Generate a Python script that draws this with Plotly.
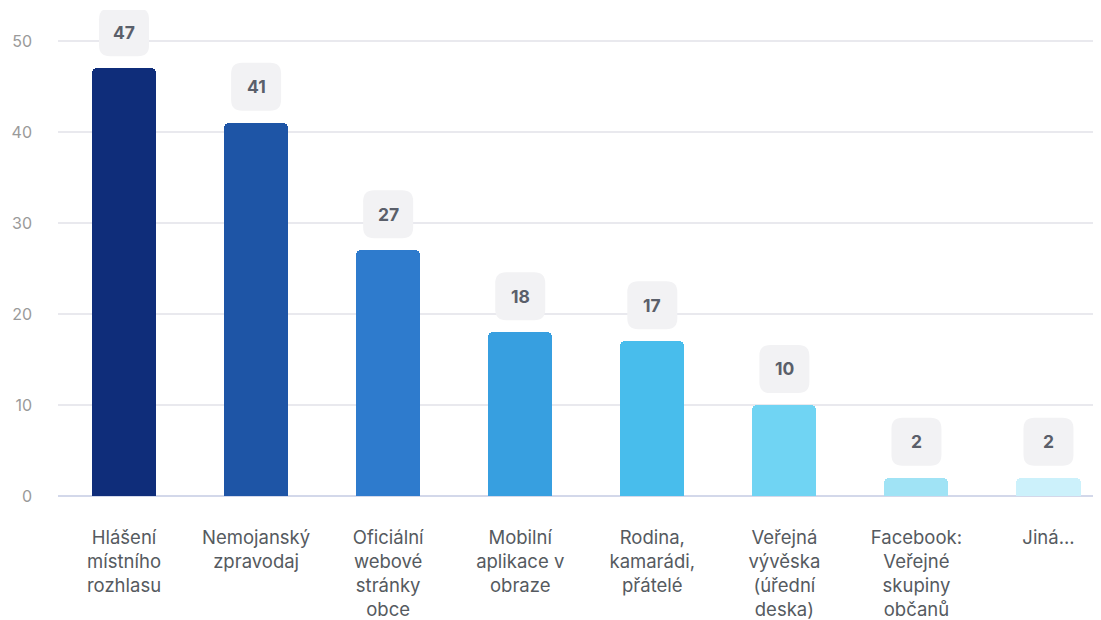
import plotly.graph_objects as go

# categories and values
categories = [
    "Hlášení<br>místního<br>rozhlasu",
    "Nemojanský<br>zpravodaj",
    "Oficiální<br>webové<br>stránky<br>obce",
    "Mobilní<br>aplikace v<br>obraze",
    "Rodina,<br>kamarádi,<br>přátelé",
    "Veřejná<br>vývěska<br>(úřední<br>deska)",
    "Facebook:<br>Veřejné<br>skupiny<br>občanů",
    "Jiná...",
]
values = [47, 41, 27, 18, 17, 10, 2, 2]
bar_colors = ["#0f2d7a", "#1e55a6", "#2e7bcd", "#379fe0", "#48bdec",
              "#70d4f3", "#a0e3f5", "#ccf1fb"]
y_ticks = [0, 10, 20, 30, 40, 50]

FONT = "Inter, Roboto, sans-serif"
x_pos = list(range(len(values)))

fig = go.Figure()
fig.add_trace(go.Bar(
    x=x_pos, y=values, width=0.485,
    marker=dict(color=bar_colors, cornerradius=5, line=dict(width=0)),
    hoverinfo="skip",
))


def rounded_box(w, h, r, gap):
    # path in pixels relative to bar top, y up
    x0, x1 = -w / 2, w / 2
    y0, y1 = gap, gap + h
    return (f"M {x0 + r},{y0} L {x1 - r},{y0} Q {x1},{y0} {x1},{y0 + r} "
            f"L {x1},{y1 - r} Q {x1},{y1} {x1 - r},{y1} L {x0 + r},{y1} "
            f"Q {x0},{y1} {x0},{y1 - r} L {x0},{y0 + r} Q {x0},{y0} {x0 + r},{y0} Z")


for i, v in zip(x_pos, values):
    fig.add_shape(
        type="path", xref="x", yref="y",
        xsizemode="pixel", ysizemode="pixel", xanchor=i, yanchor=v,
        path=rounded_box(50, 48, 11, 12),
        fillcolor="#f2f2f4", line=dict(width=0), layer="above",
    )
    fig.add_annotation(
        x=i, y=v, xref="x", yref="y", text=f"<b>{v}</b>", showarrow=False,
        yshift=36, font=dict(family=FONT, size=17.5, color="#5a5f6a"),
    )

# the page body adds 8px, so margins are shifted by that amount
fig.update_layout(
    width=1101, height=620,
    margin=dict(l=50, r=9, t=2, b=132),
    paper_bgcolor="white", plot_bgcolor="white",
    showlegend=False, bargap=0,
    font=dict(family=FONT),
)
fig.update_xaxes(
    range=[-0.5, 7.39], tickmode="array", tickvals=x_pos, ticktext=categories,
    tickfont=dict(family=FONT, size=18.5, color="#555a60"),
    showgrid=False, zeroline=False, showline=False, ticks="",
    ticklabelstandoff=28, fixedrange=True,
)
fig.update_yaxes(
    range=[0, 53.4], tickmode="array", tickvals=y_ticks,
    tickfont=dict(family=FONT, size=16, color="#9a9a9a"),
    showgrid=True, gridcolor="#e9e9ee", gridwidth=1.5,
    zeroline=True, zerolinecolor="#d3d8ea", zerolinewidth=2,
    ticklabelstandoff=25, fixedrange=True,
)

fig.write_html("out.html")
